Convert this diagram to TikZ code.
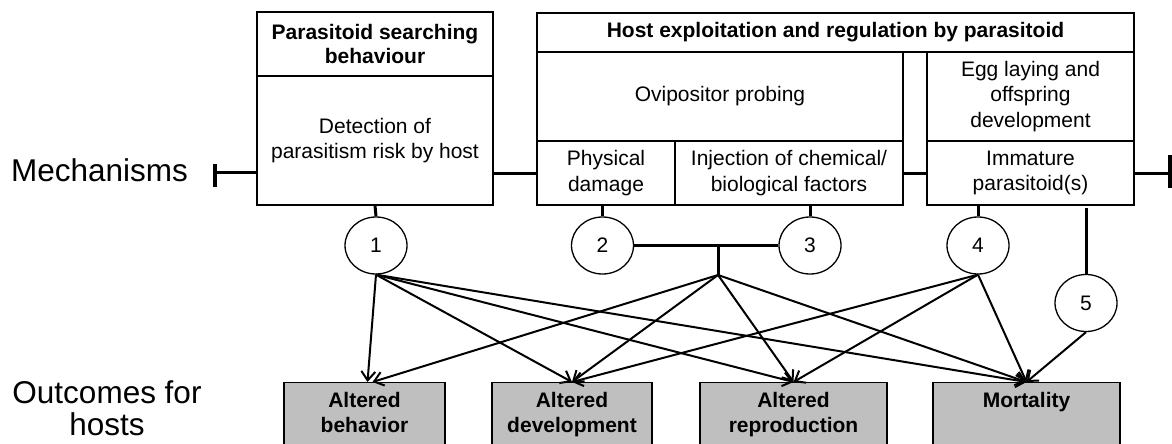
\documentclass[tikz,border=0pt]{standalone}
\usepackage{fontspec}
\setmainfont{Liberation Sans}
\usetikzlibrary{arrows.meta,shapes.geometric}
\definecolor{outfill}{RGB}{191,191,191}
\begin{document}
\begin{tikzpicture}[x=1pt,y=-1pt,
  cell/.style={draw=black, line width=1.4pt, inner sep=0pt, align=center, font=\fontsize{21pt}{25.5pt}\selectfont},
  head/.style={cell, font=\fontsize{21pt}{24pt}\selectfont\bfseries},
  outbox/.style={draw=black, line width=1.4pt, fill=outfill, anchor=north, inner sep=0pt, minimum height=75pt},
  outtext/.style={anchor=north, yshift=-10.5pt, inner sep=0pt, align=center, font=\fontsize{21pt}{24.5pt}\selectfont\bfseries},
  num/.style={ellipse, draw=black, line width=1.3pt, minimum width=62pt, minimum height=57pt, inner sep=0pt, font=\fontsize{21pt}{25pt}\selectfont},
  conn/.style={line width=3pt},
  tee/.style={line width=3.8pt},
  arr/.style={line width=2pt, -{Straight Barb[length=9pt,width=14pt]}},
  biglabel/.style={inner sep=0pt, align=center, font=\fontsize{31.5pt}{32pt}\selectfont}
]
\useasboundingbox (0,0) rectangle (1172,444);

% side labels
\node[biglabel, anchor=west] (mech) at (11,170) {Mechanisms};
\node[biglabel] (outc) at (107,408) {Outcomes for\\hosts};

% mechanism boxes
\node[head, minimum width=236pt, minimum height=64pt] (b1h) at (375,44) {Parasitoid searching\\behaviour};
\node[cell, minimum width=236pt, minimum height=129pt] (b1b) at (375,140.5) {Detection of\\parasitism risk by host};
\node[head, minimum width=597pt, minimum height=39pt] (b2h) at (835.5,32.5) {Host exploitation and regulation by parasitoid};
\node[cell, minimum width=366pt, minimum height=89pt] (ovi) at (720,96.5) {Ovipositor probing};
\node[cell, minimum width=138pt, minimum height=64pt] (phys) at (606,173) {Physical\\damage};
\node[cell, minimum width=228pt, minimum height=64pt] (inj) at (789,173) {Injection of chemical/\\biological factors};
\node[cell, minimum width=207pt, minimum height=89pt] (egg) at (1030.5,96.5) {Egg laying and\\offspring\\development};
\node[cell, minimum width=207pt, minimum height=64pt] (imm) at (1030.5,173) {Immature\\parasitoid(s)};

% numbered circles
\node[num] (c1) at (376,245.5) {1};
\node[num] (c2) at (602.5,245.5) {2};
\node[num] (c3) at (810,245.5) {3};
\node[num] (c4) at (978,245.5) {4};
\node[num] (c5) at (1086,303) {5};

% outcome boxes
\node[outbox, minimum width=161pt, label={[outtext, name=behT]north:Altered\\behavior}] (beh) at (364.5,382) {};
\node[outbox, minimum width=160pt, label={[outtext, name=devT]north:Altered\\development}] (dev) at (572,382) {};
\node[outbox, minimum width=187pt, label={[outtext, name=repT]north:Altered\\reproduction}] (rep) at (793.5,382) {};
\node[outbox, minimum width=187pt, label={[outtext, name=morT]north:Mortality}] (mor) at (1026.5,382) {};

% coordinates
\coordinate (tl) at (215,172);
\coordinate (tlt) at (215,164);
\coordinate (tlb) at (215,187);
\coordinate (tr) at (1170,173);
\coordinate (trt) at (1170,155);
\coordinate (trb) at (1170,188);
\coordinate (j) at (718,245.5);
\coordinate (jb) at (718,275);
\coordinate (c5s) at (1086,208);

% mechanism axis
\draw[tee] (tlt) -- (tlb);
\draw[conn] (tl) -- (tl -| b1b.west);
\draw[conn] (b1b.east |- phys.west) -- (phys.west);
\draw[conn] (inj.east) -- (imm.west);
\draw[conn] (imm.east) -- (tr);
\draw[tee] (trt) -- (trb);

% boxes to circles
\draw[conn] (b1b.south) -- (c1.north);
\draw[conn] (c2.north |- phys.south) -- (c2.north);
\draw[conn] (c3.north |- inj.south) -- (c3.north);
\draw[conn] (c4.north |- imm.south) -- (c4.north);
\draw[conn] (c5s) -- (c5.north);
\draw[conn] (c2.east) -- (c3.west);
\draw[conn] (j) -- (jb);

% arrows to outcomes
\draw[arr] (c1.south) -- ([xshift=3pt]beh.north);
\draw[arr] (c1.south) -- (dev.north);
\draw[arr] (c1.south) -- (rep.north);
\draw[arr] (c1.south) -- (mor.north);
\draw[arr] (jb) -- ([xshift=8pt]beh.north);
\draw[arr] (jb) -- (dev.north);
\draw[arr] (jb) -- (rep.north);
\draw[arr] (jb) -- (mor.north);
\draw[arr] (c4.south) -- (dev.north);
\draw[arr] (c4.south) -- (rep.north);
\draw[arr] (c4.south) -- (mor.north);
\draw[arr] (c5.south) -- (mor.north);
\end{tikzpicture}
\end{document}
